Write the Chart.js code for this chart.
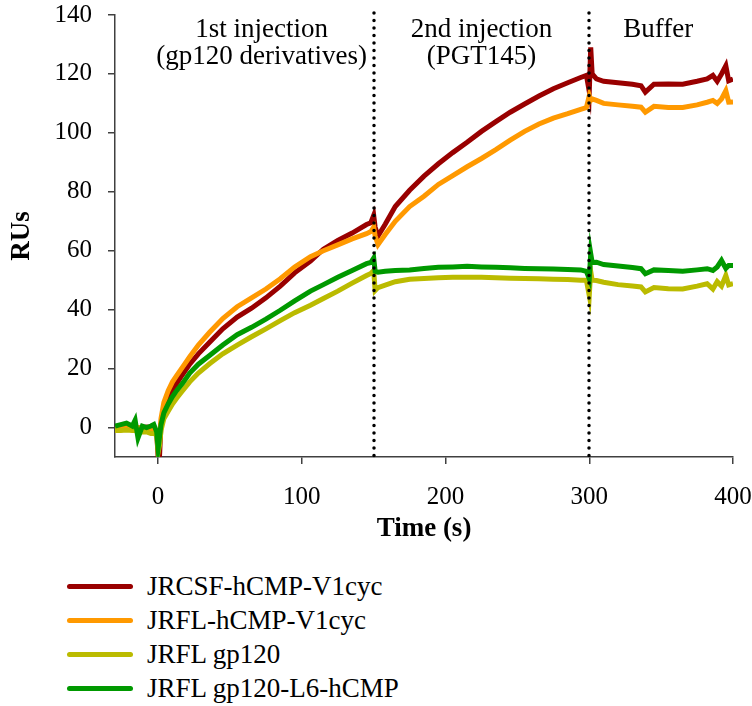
<!DOCTYPE html>
<html>
<head>
<meta charset="utf-8">
<title>SPR sensorgram</title>
<script src="https://cdn.jsdelivr.net/npm/chart.js@4.4.1/dist/chart.umd.min.js"></script>
<style>
    body { margin: 0; background: #fff; font-family: 'Liberation Serif', 'Times New Roman', serif; }
    #wrap { position: relative; width: 752px; height: 706px; }
    #chartBox { position: absolute; left: 0; top: 0; width: 752px; height: 545px; }
    .legend { position: absolute; left: 67px; top: 569px; }
    .row { display: flex; align-items: center; height: 34px; font-size: 27px; color: #000; white-space: nowrap; }
    .swatch { width: 66px; height: 5px; border-radius: 3px; margin-right: 14px; }
</style>
</head>
<body>
<div id="wrap">
    <div id="chartBox"><canvas id="sprChart" width="752" height="545"></canvas></div>
    <div class="legend" id="legend"></div>
</div>
<script>
// Time points (s)
const timeS = [-30, -26, -22, -18, -16, -14, -11, -8, -5, -3,
    -1, 0, 1, 2, 4, 7, 10, 13, 17, 22,
    28, 36, 45, 55, 65, 75, 85, 95, 106, 115,
    125, 135, 145, 148, 150, 151, 153, 158, 165, 175,
    185, 195, 205, 215, 225, 235, 245, 255, 265, 275,
    285, 294, 298, 300, 301, 302, 305, 310, 320, 330,
    336, 339, 345, 355, 365, 375, 382, 386, 389, 392,
    395, 397, 400];

// Response units per series
const jrcsfV1cyc = [0, 0.3, 0, 0.2, 0, -0.3, 0, 0.2, 0, -0.5,
    -1.5, -10, -9.5, 1, 6.5, 10, 13, 15, 18, 21.5,
    25, 29, 33.5, 37.5, 40.5, 44, 48, 52.5, 56.5, 60.5,
    63.5, 66, 68.9, 69.5, 72, 68, 65, 69, 75, 80.5,
    85.3, 89.5, 93.3, 96.8, 100.5, 103.8, 107, 109.8, 112.5, 115,
    117, 118.8, 119.5, 114, 129, 120, 118.3, 117.5, 117, 116.5,
    116, 113.8, 116.5, 116.6, 116.5, 117.5, 118.3, 119.5, 117.5, 120,
    122.8, 117.7, 118.3];

const jrflV1cyc = [0, 0, 0, 0, 0, 0, -0.5, -0.5, -1, -1,
    -1.5, -5, -3, 3, 8.5, 12.5, 15.5, 17.7, 20.5, 24,
    28, 32.4, 37, 41, 44, 47, 50.5, 54.5, 58, 60,
    62, 64, 65.8, 66.5, 68, 65, 62.1, 65.5, 70, 75,
    78.5, 82.5, 85.5, 88.5, 91.3, 94.3, 97.5, 100.5, 103, 105,
    106.5, 108, 108.6, 112.6, 111, 111.5, 111, 110, 109.5, 109,
    108.7, 107, 109, 108.6, 108.6, 109.5, 110.4, 111, 110, 111.5,
    114.3, 110.4, 110.5];

const jrflGp120 = [-1, -1, -0.8, -1, -1, -1.5, -1.5, -1.5, -2, -2,
    -2.5, -8.5, -6, -1, 3, 5.5, 8, 10, 12.5, 15.5,
    18.5, 21.7, 25, 28, 30.8, 33.5, 36.3, 39, 41.5, 43.8,
    46.3, 49, 51.6, 52.3, 53.3, 46.5, 47.5, 48.3, 49.5, 50.3,
    50.6, 50.8, 51, 51, 51, 50.8, 50.7, 50.6, 50.5, 50.3,
    50.2, 50, 50, 44.8, 53, 50, 49.9, 49.3, 48.5, 48,
    47.7, 46, 47.5, 47.1, 47, 48, 48.8, 47, 49.5, 48,
    51.6, 48.4, 48.8];

const jrflGp120L6 = [0.5, 1, 1.5, 0.5, 2.5, -3.5, 0.5, 0, 0.5, 1,
    -1.5, -7, -3, 1, 5, 8, 10.5, 12.6, 15, 18.5,
    21.5, 24.5, 28, 31.5, 34, 36.8, 39.8, 43, 46.3, 48.5,
    51, 53.3, 55.6, 56, 57.5, 53, 52.7, 53, 53.3, 53.5,
    54, 54.4, 54.5, 54.7, 54.5, 54.4, 54.2, 54, 53.9, 53.8,
    53.6, 53.5, 53, 50.5, 59, 56, 56.1, 55.3, 54.8, 54.3,
    53.9, 52.2, 53.5, 53.3, 53, 53.5, 53.9, 53.3, 54.5, 56.7,
    54, 55, 55];

const seriesNames = ['JRCSF-hCMP-V1cyc', 'JRFL-hCMP-V1cyc', 'JRFL gp120', 'JRFL gp120-L6-hCMP'];
const seriesColors = ['#990000', '#FF9900', '#BBBB00', '#009900'];

const xTicks = [0, 100, 200, 300, 400];
const yTicks = [0, 20, 40, 60, 80, 100, 120, 140];

// Injection boundaries and phase captions
const phaseBounds = [150, 300];
const phaseNotes = [
    { t: 72, lines: ['1st injection', '(gp120 derivatives)'] },
    { t: 225, lines: ['2nd injection', '(PGT145)'] },
    { t: 348, lines: ['Buffer'] }
];

const serif = "'Liberation Serif', 'Times New Roman', serif";
const axisColor = '#404040';

// Dotted phase lines + captions
const phasePlugin = {
    id: 'phases',
    afterDatasetsDraw(chart) {
        const { ctx, chartArea, scales } = chart;
        ctx.save();
        ctx.strokeStyle = '#000';
        ctx.lineWidth = 3.5;
        ctx.lineCap = 'round';
        ctx.setLineDash([0, 7.5]);
        phaseBounds.forEach(t => {
            const px = Math.round(scales.x.getPixelForValue(t));
            ctx.beginPath();
            ctx.moveTo(px, chartArea.top - 2);
            ctx.lineTo(px, chartArea.bottom);
            ctx.stroke();
        });
        ctx.restore();

        ctx.save();
        ctx.fillStyle = '#000';
        ctx.font = '27px ' + serif;
        ctx.textAlign = 'center';
        ctx.textBaseline = 'alphabetic';
        phaseNotes.forEach(note => {
            const px = scales.x.getPixelForValue(note.t);
            note.lines.forEach((line, i) => {
                ctx.fillText(line, px, chartArea.top + 22 + i * 27);
            });
        });
        ctx.restore();
    }
};

const seriesData = [jrcsfV1cyc, jrflV1cyc, jrflGp120, jrflGp120L6];

function drawChart() {
    const datasets = seriesData.map((vals, i) => ({
        label: seriesNames[i],
        data: timeS.map((t, j) => ({ x: t, y: vals[j] })),
        borderColor: seriesColors[i],
        backgroundColor: seriesColors[i],
        borderWidth: 5,
        pointRadius: 0,
        tension: 0,
        fill: false,
        order: 3 - i
    }));

    new Chart(document.getElementById('sprChart'), {
        type: 'line',
        data: { datasets: datasets },
        options: {
            responsive: false,
            animation: false,
            layout: { padding: { top: 15, right: 19, left: 0, bottom: 0 } },
            plugins: {
                legend: { display: false },
                tooltip: { enabled: false }
            },
            scales: {
                x: {
                    type: 'linear',
                    min: -30,
                    max: 400,
                    afterBuildTicks: s => { s.ticks = xTicks.map(v => ({ value: v })); },
                    afterFit: s => {
                        s.height = 88;
                        s.paddingLeft = 0;
                        s.paddingRight = 0;
                    },
                    grid: { drawOnChartArea: false, tickLength: 7, color: axisColor, lineWidth: 1.5 },
                    border: { color: axisColor, width: 1.5 },
                    ticks: { font: { family: serif, size: 25 }, color: '#000', padding: 18, maxRotation: 0 },
                    title: {
                        display: true,
                        text: 'Time (s)',
                        color: '#000',
                        font: { family: serif, size: 27, weight: 'bold' },
                        padding: { top: 0, bottom: 0 }
                    }
                },
                y: {
                    min: -10,
                    max: 140,
                    afterBuildTicks: s => { s.ticks = yTicks.map(v => ({ value: v })); },
                    afterFit: s => {
                        s.width = 115;
                        s.paddingTop = 0;
                        s.paddingBottom = 0;
                    },
                    grid: { drawOnChartArea: false, tickLength: 7, color: axisColor, lineWidth: 1.5 },
                    border: { color: axisColor, width: 1.5 },
                    ticks: { font: { family: serif, size: 25 }, color: '#000', padding: 16 },
                    title: {
                        display: true,
                        text: 'RUs',
                        color: '#000',
                        font: { family: serif, size: 27, weight: 'bold' },
                        padding: { top: 6, bottom: 0 }
                    }
                }
            }
        },
        plugins: [phasePlugin]
    });
}

// HTML legend under the chart
const legendBox = document.getElementById('legend');
seriesNames.forEach((name, i) => {
    const row = document.createElement('div');
    row.className = 'row';
    row.innerHTML = `<span class="swatch" style="background:${seriesColors[i]}"></span><span>${name}</span>`;
    legendBox.appendChild(row);
});

// make sure the serif face is ready before the canvas text is drawn
Promise.all([
    document.fonts.load("25px 'Liberation Serif'"),
    document.fonts.load("bold 27px 'Liberation Serif'")
]).then(drawChart, drawChart);
</script>
</body>
</html>
